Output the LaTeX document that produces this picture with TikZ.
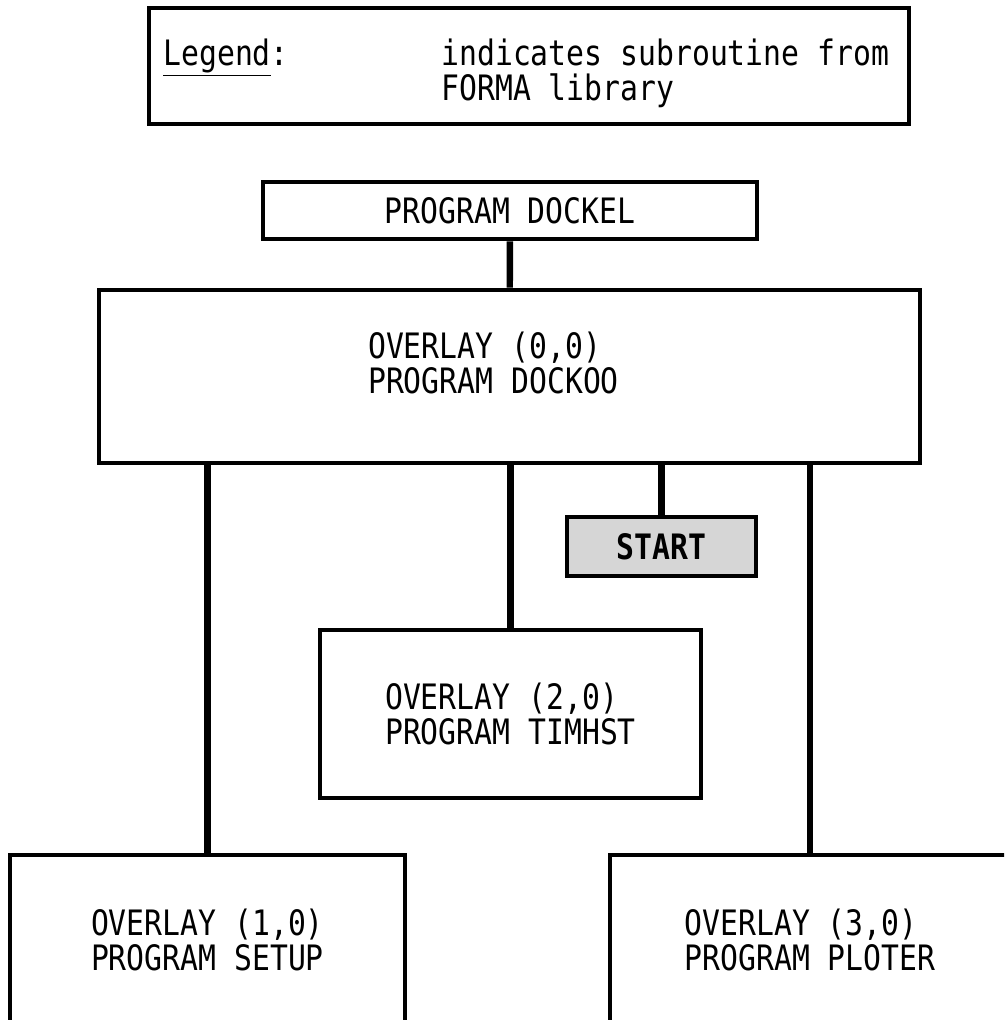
\documentclass[tikz,border=0pt]{standalone}
\usepackage{fontspec}
\setmonofont[FakeStretch=0.85]{DejaVu Sans Mono}
\usepackage{tikz}

\newcommand{\chartfont}{\ttfamily\fontsize{17.5pt}{17.5pt}\selectfont}

\tikzset{
    progbox/.style={draw, line width=2.4pt, inner sep=0pt, align=left, font=\chartfont},
    link/.style={line width=3.2pt},
}

\begin{document}
\begin{tikzpicture}[x=0.5pt, y=-0.5pt]
    \useasboundingbox (0,0) rectangle (1004,1020);
    \clip (0,0) rectangle (1004,1020);

    % Legend
    \node[progbox, minimum width=380pt, minimum height=58pt] (legend) at (529,66) {};
    \node[font=\chartfont, inner sep=0pt, anchor=base west] (leglabel) at (163,65.5) {\underline{Legend}:};
    \node[font=\chartfont, inner sep=0pt, anchor=base west] (legtext) at (441,65.5) {indicates subroutine from};
    \node[font=\chartfont, inner sep=0pt, anchor=base west] (legtext2) at (441,100.5) {FORMA library};

    % Main program and root overlay
    \node[progbox, minimum width=247pt, minimum height=28.5pt] (dockel) at (510,210.5) {PROGRAM DOCKEL};
    \node[progbox, minimum width=410.5pt, minimum height=86.5pt] (dockoo) at (509.5,376.5)
        {OVERLAY (0,0)\\PROGRAM DOCKOO\hspace*{16pt}\rule[-14pt]{0pt}{1pt}};

    % Entry point
    \node[progbox, fill=black!16, minimum width=94.5pt, minimum height=29.5pt, font=\chartfont\bfseries]
        (start) at (661.5,546.5) {START};

    % Overlays
    \node[progbox, minimum width=190.5pt, minimum height=84pt] (timhst) at (510.5,714)
        {OVERLAY (2,0)\\PROGRAM TIMHST};
    \node[progbox, minimum width=197.5pt, minimum height=85pt] (setup) at (207.5,940)
        {OVERLAY (1,0)\\PROGRAM SETUP};
    \node[progbox, minimum width=200pt, minimum height=85pt] (ploter) at (810,940)
        {OVERLAY (3,0)\\PROGRAM PLOTER};

    % Links
    \draw[link] (dockel) -- (dockoo);
    \draw[link] (dockoo.south -| setup.north) -- (setup.north);
    \draw[link] (dockoo.south -| timhst.north) -- (timhst.north);
    \draw[link] (dockoo.south -| start.north) -- (start.north);
    \draw[link] (dockoo.south -| ploter.north) -- (ploter.north);
\end{tikzpicture}
\end{document}
